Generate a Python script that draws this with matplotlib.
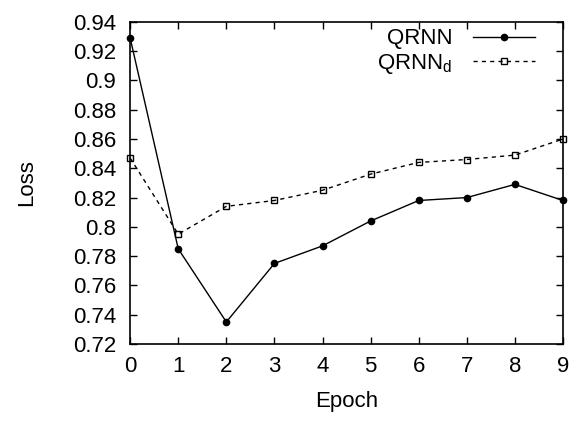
import matplotlib
matplotlib.use("Agg")
import matplotlib.pyplot as plt
from matplotlib.ticker import FuncFormatter

epochs = [0, 1, 2, 3, 4, 5, 6, 7, 8, 9]
qrnn = [0.929, 0.785, 0.735, 0.775, 0.787, 0.804, 0.818, 0.820, 0.829, 0.818]
qrnn_d = [0.847, 0.795, 0.814, 0.818, 0.825, 0.836, 0.844, 0.846, 0.849, 0.860]
y_ticks = [0.72, 0.74, 0.76, 0.78, 0.80, 0.82, 0.84, 0.86, 0.88, 0.90, 0.92, 0.94]

plt.rcParams.update({
    "font.family": ["Liberation Sans", "DejaVu Sans"],
    "font.size": 16,
})

fig = plt.figure(figsize=(5.81, 4.21), dpi=100)
ax = fig.add_axes([0.224, 0.183, 0.745, 0.765])

ax.plot(epochs, qrnn, "-", color="black", linewidth=1.0,
        marker="o", markersize=4.5, label="QRNN", clip_on=False)
ax.plot(epochs, qrnn_d, "--", color="black", linewidth=1.0, dashes=(3, 3),
        marker="s", markersize=5, markerfacecolor="none", markeredgewidth=1.0,
        label=r"QRNN$_\mathregular{d}$", clip_on=False)

ax.set_xlim(0, 9)
ax.set_ylim(0.72, 0.94)
ax.set_xticks(epochs)
ax.set_yticks(y_ticks)
ax.yaxis.set_major_formatter(FuncFormatter(lambda v, p: f"{v:g}"))
ax.tick_params(direction="in", top=True, right=True, length=5, width=1,
               labelsize=16)
ax.tick_params(axis="y", pad=10)
ax.tick_params(axis="x", pad=9)
for s in ax.spines.values():
    s.set_linewidth(1.2)

ax.set_xlabel("Epoch", fontsize=16, labelpad=10)
ax.set_ylabel("Loss", fontsize=16, labelpad=26)

ax.legend(loc="upper right", bbox_to_anchor=(0.935, 0.98), frameon=False,
          markerfirst=False, fontsize=16, handlelength=2.8,
          handletextpad=0.9, borderaxespad=0, borderpad=0,
          labelspacing=0.12)

fig.savefig("out.png", dpi=100)
